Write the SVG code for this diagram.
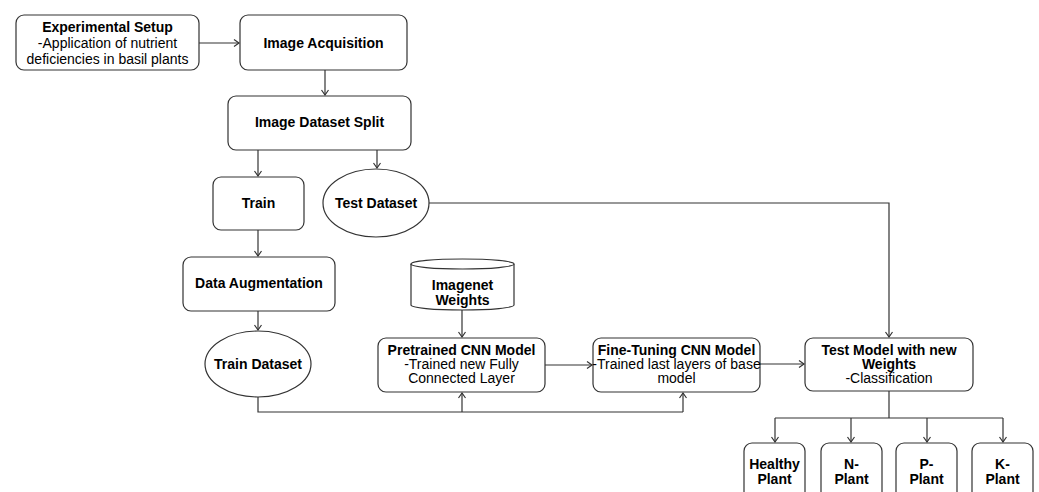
<svg xmlns="http://www.w3.org/2000/svg" width="1039" height="492" viewBox="0 0 1039 492">
<defs>
<style>
.n{fill:#fff;stroke:#333;stroke-width:1.2}
.t{font-family:"Liberation Sans",Arial,sans-serif;font-size:14px;fill:#000;text-anchor:middle;dominant-baseline:central}
.b{font-weight:bold}
.c{fill:none;stroke:#333;stroke-width:1.2}
</style>
<marker id="ah" markerWidth="10" markerHeight="10" refX="8" refY="5" orient="auto" markerUnits="userSpaceOnUse">
<polyline points="3,1.5 8,5 3,8.5" fill="none" stroke="#333" stroke-width="1.2"/>
</marker>
</defs>
<rect width="1039" height="492" fill="#fff"/>
<g id="connectors">
<path class="c" d="M199,43 H239" marker-end="url(#ah)"/>
<path class="c" d="M325,70 V95" marker-end="url(#ah)"/>
<path class="c" d="M258,150 V176" marker-end="url(#ah)"/>
<path class="c" d="M377,150 V168" marker-end="url(#ah)"/>
<path class="c" d="M258,230 V256" marker-end="url(#ah)"/>
<path class="c" d="M258,311 V330" marker-end="url(#ah)"/>
<path class="c" d="M429,203 H889 V337" marker-end="url(#ah)"/>
<path class="c" d="M462,310 V337" marker-end="url(#ah)"/>
<path class="c" d="M258,397 V412 H683"/>
<path class="c" d="M462,412 V393" marker-end="url(#ah)"/>
<path class="c" d="M683,412 V393" marker-end="url(#ah)"/>
<path class="c" d="M545,365 H592" marker-end="url(#ah)"/>
<path class="c" d="M760,364 H804" marker-end="url(#ah)"/>
<path class="c" d="M889,391 V418 M775,418 H1003"/>
<path class="c" d="M775,418 V442" marker-end="url(#ah)"/>
<path class="c" d="M851,418 V442" marker-end="url(#ah)"/>
<path class="c" d="M927,418 V442" marker-end="url(#ah)"/>
<path class="c" d="M1003,418 V442" marker-end="url(#ah)"/>
</g>
<g id="experimental-setup">
<rect class="n" x="16" y="15" width="183" height="55" rx="8"/>
<text class="t b" x="107.5" y="27">Experimental Setup</text>
<text class="t" x="107.5" y="43">-Application of nutrient</text>
<text class="t" x="107.5" y="59">deficiencies in basil plants</text>
</g>
<g id="image-acquisition">
<rect class="n" x="240" y="15" width="167" height="55" rx="8"/>
<text class="t b" x="323.5" y="43">Image Acquisition</text>
</g>
<g id="image-dataset-split">
<rect class="n" x="228" y="96" width="183" height="54" rx="8"/>
<text class="t b" x="319.5" y="122">Image Dataset Split</text>
</g>
<g id="train">
<rect class="n" x="213" y="177" width="91" height="53" rx="8"/>
<text class="t b" x="258.5" y="203">Train</text>
</g>
<g id="test-dataset">
<ellipse class="n" cx="376" cy="203" rx="53" ry="34"/>
<text class="t b" x="376" y="203">Test Dataset</text>
</g>
<g id="data-augmentation">
<rect class="n" x="183" y="257" width="152" height="54" rx="8"/>
<text class="t b" x="259" y="283">Data Augmentation</text>
</g>
<g id="train-dataset">
<ellipse class="n" cx="258" cy="364" rx="53" ry="33"/>
<text class="t b" x="258" y="364">Train Dataset</text>
</g>
<g id="imagenet-weights">
<path class="n" d="M411,264 V305 A51.5,5 0 0 0 514,305 V264"/>
<ellipse class="n" cx="462.5" cy="264" rx="51.5" ry="5"/>
<text class="t b" x="462.5" y="285">Imagenet</text>
<text class="t b" x="462.5" y="300">Weights</text>
</g>
<g id="pretrained-cnn">
<rect class="n" x="378" y="338" width="167" height="54" rx="8"/>
<text class="t b" x="461.5" y="350">Pretrained CNN Model</text>
<text class="t" x="461.5" y="364">-Trained new Fully</text>
<text class="t" x="461.5" y="378">Connected Layer</text>
</g>
<g id="fine-tuning-cnn">
<rect class="n" x="593" y="338" width="167" height="54" rx="8"/>
<text class="t b" x="676.5" y="350">Fine-Tuning CNN Model</text>
<text class="t" x="676.5" y="364">-Trained last layers of base</text>
<text class="t" x="676.5" y="378">model</text>
</g>
<g id="test-model">
<rect class="n" x="805" y="338" width="168" height="53" rx="8"/>
<text class="t b" x="889" y="350">Test Model with new</text>
<text class="t b" x="889" y="364">Weights</text>
<text class="t" x="889" y="378">-Classification</text>
</g>
<g id="healthy-plant">
<rect class="n" x="744" y="443" width="61" height="60" rx="8"/>
<text class="t b" x="774.5" y="464">Healthy</text>
<text class="t b" x="774.5" y="479">Plant</text>
</g>
<g id="n-plant">
<rect class="n" x="821" y="443" width="61" height="60" rx="8"/>
<text class="t b" x="851.5" y="464">N-</text>
<text class="t b" x="851.5" y="479">Plant</text>
</g>
<g id="p-plant">
<rect class="n" x="896" y="443" width="61" height="60" rx="8"/>
<text class="t b" x="926.5" y="464">P-</text>
<text class="t b" x="926.5" y="479">Plant</text>
</g>
<g id="k-plant">
<rect class="n" x="972" y="443" width="61" height="60" rx="8"/>
<text class="t b" x="1002.5" y="464">K-</text>
<text class="t b" x="1002.5" y="479">Plant</text>
</g>
</svg>
